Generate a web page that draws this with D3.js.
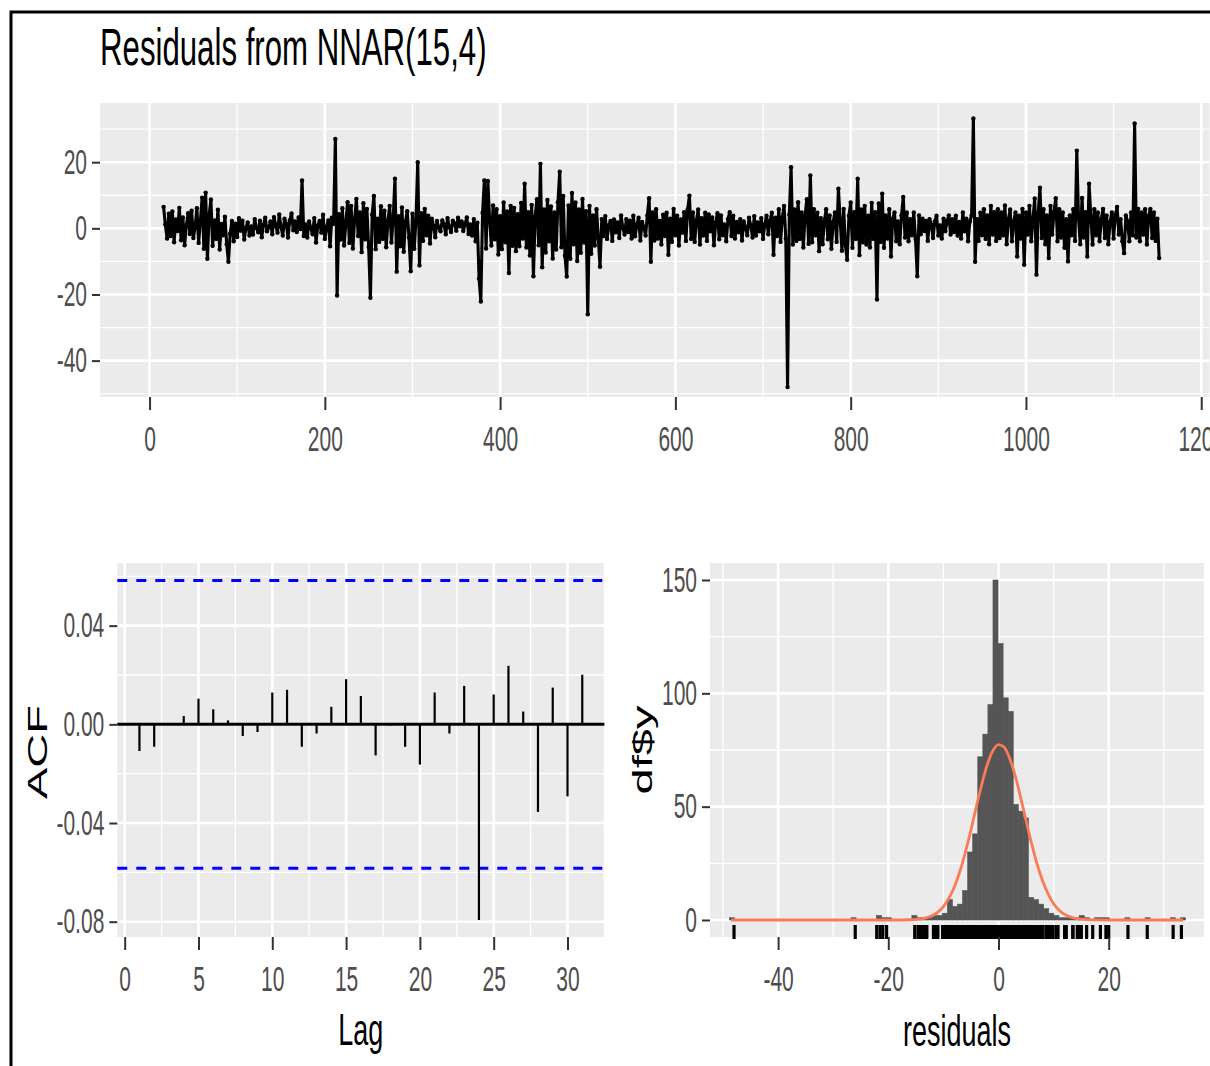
<!DOCTYPE html>
<html lang="en">
<head>
<meta charset="UTF-8">
<title>Residuals from NNAR(15,4)</title>
<script src="https://d3js.org/d3.v7.min.js"></script>
<style>
  body { margin: 0; background: #fff; }
  svg { display: block; font-family: "Liberation Sans", Arial, sans-serif; }
  .tick text { fill: #4d4d4d; font-size: 35px; font-family: "Liberation Sans", Arial, sans-serif; }
  .tick line { stroke: #333; stroke-width: 2; }
  .panel { fill: #ebebeb; }
  .grid-major { stroke: #fff; stroke-width: 2.6; }
  .grid-minor { stroke: #fff; stroke-width: 1.3; }
  .label { fill: #000; font-size: 44px; }
</style>
</head>
<body>
<svg width="1210" height="1066"></svg>
<script>
// residuals at every second time step starting at t = 16
const residStart = 16;
const residStep = 2;
const resid = [
  6.5, 1.2, -3.1, 4.4, -2.3, 5.1, -4.2, 2.7, -0.8, 6.2, -3.6, 3.3, -5.1, 0.9, 4.6, -1.7, 5.3, -2.9, 0.4, 6.1, -4.4, 2.2, 9.3, -6.2, 10.8,
  -9.2, 4.1, 8.7, -5.3, 2.4, -3.2, 5.6, -6.4, 1.3, -2.1, 3.5, -4.8, -10.1, -1.6, 2.2, -3.9, 1.4, -2.6, 3.1, -0.7, 2.3, -3.4, 0.2, 1.8, -2.2,
  0.6, -1.9, 2.8, 0.1, -1.2, 2.3, -2.7, 1.1, 3.2, -0.9, 0.3, 2.1, -1.8, 3.4, 0.8, -1.3, 4.2, 0.5, -2.2, 2.9, 1.3, -2.8, 2.4, 4.5, -0.6,
  2.1, -1.1, 3.3, -0.2, 14.5, -2.3, 1.2, -2.8, 2.1, 0.2, -1.8, 3.1, -4.3, 0.9, 2.2, -1.3, 4.1, -3.2, 0.3, 2.4, -5.4, 3.2, 1.4, 27, -20.3,
  4.3, -3.4, 6.1, -5.2, 1.8, 7.9, -4.4, 6.8, -6.1, 2.6, 8.9, -2.3, 4.8, -7.2, 7.6, -3.3, 5.9, -5.6, -21, 4.2, 9.8, -6.3, 2.9, -4.1, 6.7,
  -3.2, 5.3, -5.7, 2.2, 6.8, -4.3, 3.1, 15, -13.1, 3.7, -5.4, 6.3, -7.1, 1.9, 5.2, -2.8, -13, 4.4, -6.2, 2.7, 20, -11.2, 4.6, -3.8, 5.9,
  -2.1, 3.8, -4.6, 2.9, 0.8, -2.7, 2.2, 0.3, -0.9, 2.4, 1.2, -1.8, 3.1, 0.4, -1.1, 2.3, 1.5, -0.7, 3.2, 0.6, 2.1, -0.8, 1.3, 3.3, -1.7,
  1.2, -2.2, 2.8, -3.9, 1.7, -15.2, -22.1, 4.7, 14.5, -6.1, 14.3, 2.6, -5.2, 6.9, -3.3, 5.8, -7.9, 3.7, -6.3, 7.8, -4.2, 5.1, -13.5, 6.8, -5.3,
  6.2, -6.9, 4.3, -5.4, 7.7, -3.1, 13.5, -5.8, 4.9, -8.2, 7.1, -14.5, 3.6, 8.8, -5.1, 19.5, -11.8, 5.7, -7.3, 8.6, -3.9, 6.6, -9.1, 4.8, -6.4,
  7.9, 17.1, -5.7, 9.8, -8.3, -14.6, 6.9, -9.2, 10.7, -4.8, 7.8, -9.9, 5.7, -7.4, 8.9, -4.3, 5.2, -26, 6.8, -7.7, 3.9, -5.2, 5.8, -2.9, -11.6,
  2.8, -2.3, 3.7, -3.2, 0.9, 2.2, -3.8, 2.7, -1.2, 1.8, -2.9, 3.9, 0.2, -1.9, 2.8, -1.1, 2.3, -3.1, 3.8, -2.4, 1.1, 3.2, -3.7, 1.9, 0.4,
  -2.2, 3.9, 9.1, -10.1, 4.8, -3.7, 5.8, -3.1, 2.2, -4.9, 4.1, -2.3, 4.7, -8, 2.9, -4.1, 5.9, -2.1, 3.8, -5.2, 2.7, -1.3, 4.9, -3.8, 5.7,
  9.9, -3.2, 4.8, -4.1, 2.3, 5.7, -4.9, 3.1, -2.2, 4.7, -3.8, 4.2, -0.9, 3.3, -5.1, 1.8, 4.6, -3.3, 3.9, -2.1, 1.2, -3.9, 2.8, 4.9, -2.3,
  3.8, -3.1, 1.9, -1.2, 2.8, -3.7, 2.1, 0.3, -2.1, 3.2, 0.9, -2.8, 3.7, -2.2, 1.8, -0.9, 3.1, -3.2, 1.2, 3.8, -1.8, 2.3, 4.7, -8, 3.2,
  -2.3, 5.8, -4.1, 3.2, 6.8, -3.1, -48, 4.2, 18.5, -4.9, 5.7, -3.8, 7.9, -3.2, 4.8, -5.8, 3.9, 8.8, -4.7, 16, -4.2, 5.8, -2.1, 4.7, -6.9,
  3.1, -4.8, 2.2, 5.8, -3.3, 3.9, -6.2, 1.9, 4.8, -4.1, 12, 2.8, -6.8, 5.9, -5.2, -9.5, 3.8, 7.8, -5.9, 4.9, -3.2, 15, -8.1, 5.7, -4.2,
  6.8, -4.9, 3.8, -5.8, 7.7, -3.2, 4.9, -21.5, 7.5, -4.1, 10.5, -5.9, 3.9, -3.1, 5.8, -8.5, 2.9, 4.8, -3.9, 2.1, -4.8, 3.9, 9.5, -2.8, 4.8,
  -3.9, 2.8, -2.1, 4.8, -3.2, -14.5, 3.9, -1.8, 2.9, -0.8, 2.2, -3.8, 2.8, 1.1, -2.9, 2.1, 3.8, -2.2, 0.9, -3.1, 2.9, -0.9, 2.2, 3.9, -1.9,
  2.8, -1.1, 3.8, -2.2, 1.9, -3.1, 4.8, -0.9, 2.9, -3.9, 2.1, 3.9, 33.2, -10.1, 2.8, -3.8, 4.7, -2.1, 5.8, -3.2, 3.9, -4.8, 6.8, -1.9, 4.9,
  -3.8, 5.8, -2.9, 4.8, -2.1, 6.9, -4.8, 2.8, 5.7, -3.9, 1.9, 4.8, -8.5, 3.8, -3.1, 5.9, -11, 4.8, -1.9, 6.8, -3.9, 2.9, 9, -14, 4.8,
  12.3, -2.9, 5.8, -4.8, 3.9, -9, 6.8, -1.9, 4.9, 9.1, -3.9, 5.8, -2.8, 4.8, -5.9, 2.8, -10, 3.9, -2.1, 5.8, -3.8, 23.5, 2.9, -4.8, 9.2,
  -2.8, 4.9, -8.5, 13.5, 3.8, -4.9, 5.8, -2.1, 4.8, -3.9, 2.8, 5.9, -2.9, 3.9, -4.8, 1.9, 4.8, -3.1, 3.9, 6.5, -1.9, 2.8, -3.9, -7.5, 3.9,
  2.1, -3.9, 4.8, -2.1, 31.7, -2.8, 5.9, -3.9, 4.8, -1.9, 5.8, -4.9, 3.8, 5.9, -2.9, 4.8, -3.8, 2.9, -9
];

// autocorrelations
const acfLag = [1, 2, 3, 4, 5, 6, 7, 8, 9, 10, 11, 12, 13, 14, 15, 16, 17, 18, 19, 20,
                21, 22, 23, 24, 25, 26, 27, 28, 29, 30, 31];
const acfValue = [-0.0108, -0.0091, 0.0005, 0.0034, 0.0104, 0.0061, 0.0016, -0.0047, -0.0031, 0.0129,
                  0.0140, -0.0091, -0.0037, 0.0071, 0.0183, 0.0115, -0.0126, -0.0005, -0.0091, -0.0163,
                  0.0129, -0.0037, 0.0156, -0.0793, 0.0121, 0.0237, 0.0052, -0.0355, 0.0149, -0.0292, 0.0201];
const acfLimit = 0.0583;

// histogram: bins of equal width starting at histStart
const histStart = -48.84;
const histWidth = 0.92;
const histCounts = [
  1, 0, 0, 0, 0, 0, 0, 0, 0, 0, 0, 0, 0, 0, 0, 0, 0, 0, 0, 0, 0, 0, 0, 0,
  1, 0, 0, 0, 0, 2, 1, 1, 0, 0, 0, 0,
  2, 1, 1, 1, 2, 2, 3, 9, 6, 7, 13, 30, 38, 72, 82, 95, 150,
  122, 98, 92, 51, 48, 45, 10, 9, 7, 5, 3, 2, 1, 1, 1, 1, 2, 1, 0,
  1, 1, 1, 0, 0, 0, 1, 0, 0, 0, 1, 0, 0, 0, 0, 1, 0, 1
];

// fitted normal curve
const normX = [-48.5, -20, -16, -15, -14, -13, -12, -11, -10, -9, -8, -7, -6, -5, -4, -3, -2, -1,
               0, 1, 2, 3, 4, 5, 6, 7, 8, 9, 10, 11, 12, 13, 14, 15, 16, 20, 33.5];
const normY = [0, 0, 0.12, 0.26, 0.53, 1.05, 1.96, 3.5, 5.94, 9.6, 14.7, 21.5, 30.0, 39.7, 50.2, 60.2, 68.8, 74.8,
               77.4, 76.3, 71.5, 63.9, 54.3, 43.9, 33.8, 24.7, 17.3, 11.5, 7.2, 4.35, 2.5, 1.36, 0.7, 0.35, 0.16, 0, 0];

// tick values
const topXTicks = [0, 200, 400, 600, 800, 1000, 1200];
const topYTicks = [-40, -20, 0, 20];
const acfXTicks = [0, 5, 10, 15, 20, 25, 30];
const acfYTicks = [-0.08, -0.04, 0, 0.04];
const histXTicks = [-40, -20, 0, 20];
const histYTicks = [0, 50, 100, 150];

const svg = d3.select("svg");
const S = 0.6;   // the lettering in the picture is squeezed horizontally

const xTop = d3.scaleLinear().domain([-56.55, 1209.55]).range([100, 1209.6]);
const yTop = d3.scaleLinear().domain([-51.0, 37.9]).range([397, 103]);
const xAcf = d3.scaleLinear().domain([-0.5, 32.5]).range([117.3, 604.4]);
const yAcf = d3.scaleLinear().domain([-0.0862, 0.0654]).range([937, 563]);
const xHist = d3.scaleLinear().domain([-52.36, 37.3]).range([710, 1204]);
const yHist = d3.scaleLinear().domain([-7.5, 157.5]).range([937, 563]);

function mids(ticks, step) {
  return ticks.map(d => d - step / 2).concat([ticks[ticks.length - 1] + step / 2]);
}

function drawPanel(x, y, xMajor, xMinor, yMajor, yMinor) {
  const [xa, xb] = x.range(), [yb, ya] = y.range();
  const inX = d => d >= x.domain()[0] && d <= x.domain()[1];
  const inY = d => d >= y.domain()[0] && d <= y.domain()[1];
  const g = svg.append("g");
  g.append("rect").attr("class", "panel")
    .attr("x", xa).attr("y", ya).attr("width", xb - xa).attr("height", yb - ya);
  g.selectAll(null).data(yMinor.filter(inY)).join("line").attr("class", "grid-minor")
    .attr("x1", xa).attr("x2", xb).attr("y1", d => y(d)).attr("y2", d => y(d));
  g.selectAll(null).data(xMinor.filter(inX)).join("line").attr("class", "grid-minor")
    .attr("x1", d => x(d)).attr("x2", d => x(d)).attr("y1", ya).attr("y2", yb);
  g.selectAll(null).data(yMajor.filter(inY)).join("line").attr("class", "grid-major")
    .attr("x1", xa).attr("x2", xb).attr("y1", d => y(d)).attr("y2", d => y(d));
  g.selectAll(null).data(xMajor.filter(inX)).join("line").attr("class", "grid-major")
    .attr("x1", d => x(d)).attr("x2", d => x(d)).attr("y1", ya).attr("y2", yb);
  return g;
}

function squeeze(g) {
  g.selectAll("text").each(function() {
    const t = d3.select(this);
    t.attr("x", (+t.attr("x") || 0) / S).attr("transform", `scale(${S},1)`);
  });
}

function axisBottom(x, y, ticks, fmt) {
  svg.append("g").attr("transform", `translate(0,${y.range()[0]})`)
    .call(d3.axisBottom(x).tickValues(ticks).tickFormat(fmt).tickSize(13).tickPadding(16))
    .call(g => g.select(".domain").remove())
    .call(squeeze);
}

function axisLeft(x, y, ticks, fmt) {
  svg.append("g").attr("transform", `translate(${x.range()[0]},0)`)
    .call(d3.axisLeft(y).tickValues(ticks).tickFormat(fmt).tickSize(8).tickPadding(5))
    .call(g => g.select(".domain").remove())
    .call(squeeze);
}

function label(text, x, y, size, rotate, anchor) {
  svg.append("text").attr("class", "label")
    .attr("transform", `translate(${x},${y}) scale(${S},1)` + (rotate ? " rotate(-90)" : ""))
    .attr("text-anchor", anchor)
    .style("font-size", size + "px")
    .text(text);
}

const fmtInt = d => String(d);
const fmtAcf = d => d.toFixed(2);

// ---- top: residual series
drawPanel(xTop, yTop, topXTicks, mids(topXTicks, 200), topYTicks, mids(topYTicks, 20));
const series = resid.map((v, i) => [residStart + i * residStep, v]);
svg.append("path").datum(series)
  .attr("fill", "none").attr("stroke", "#000").attr("stroke-width", 3.1)
  .attr("stroke-linejoin", "round")
  .attr("d", d3.line().x(d => xTop(d[0])).y(d => yTop(d[1])));
svg.append("g").selectAll("circle").data(series).join("circle")
  .attr("cx", d => xTop(d[0])).attr("cy", d => yTop(d[1])).attr("r", 2.2).attr("fill", "#000");
axisBottom(xTop, yTop, topXTicks, fmtInt);
axisLeft(xTop, yTop, topYTicks, fmtInt);

// ---- bottom left: ACF
drawPanel(xAcf, yAcf, acfXTicks, mids(acfXTicks, 5), acfYTicks, mids(acfYTicks, 0.04));
[acfLimit, -acfLimit].forEach(v => {
  svg.append("line")
    .attr("x1", xAcf.range()[0]).attr("x2", xAcf.range()[1])
    .attr("y1", yAcf(v)).attr("y2", yAcf(v))
    .attr("stroke", "#0000ff").attr("stroke-width", 3).attr("stroke-dasharray", "10,9");
});
svg.append("line")
  .attr("x1", xAcf.range()[0]).attr("x2", xAcf.range()[1])
  .attr("y1", yAcf(0)).attr("y2", yAcf(0))
  .attr("stroke", "#000").attr("stroke-width", 3);
svg.append("g").selectAll("line").data(acfLag).join("line")
  .attr("x1", d => xAcf(d)).attr("x2", d => xAcf(d))
  .attr("y1", yAcf(0)).attr("y2", (d, i) => yAcf(acfValue[i]))
  .attr("stroke", "#000").attr("stroke-width", 2.2);
axisBottom(xAcf, yAcf, acfXTicks, fmtInt);
axisLeft(xAcf, yAcf, acfYTicks, fmtAcf);

// ---- bottom right: histogram with normal curve and rug
drawPanel(xHist, yHist, histXTicks, mids(histXTicks, 20), histYTicks, mids(histYTicks, 50));
const bins = histCounts.map((c, i) => ({x0: histStart + i * histWidth, x1: histStart + (i + 1) * histWidth, n: c}))
  .filter(b => b.n > 0);
svg.append("g").selectAll("rect").data(bins).join("rect")
  .attr("x", d => xHist(d.x0)).attr("width", d => xHist(d.x1) - xHist(d.x0))
  .attr("y", d => yHist(d.n)).attr("height", d => yHist(0) - yHist(d.n))
  .attr("fill", "#555").attr("stroke", "#555").attr("stroke-width", 0.6);
svg.append("path").datum(normX.map((x, i) => [x, normY[i]]))
  .attr("fill", "none").attr("stroke", "#fa7b55").attr("stroke-width", 2.8)
  .attr("d", d3.line().curve(d3.curveMonotoneX).x(d => xHist(d[0])).y(d => yHist(d[1])));
svg.append("g").selectAll("line").data(resid).join("line")
  .attr("x1", d => xHist(d)).attr("x2", d => xHist(d))
  .attr("y1", yHist.range()[0] - 12).attr("y2", yHist.range()[0] + 2)
  .attr("stroke", "#000").attr("stroke-width", 3.2);
axisBottom(xHist, yHist, histXTicks, fmtInt);
axisLeft(xHist, yHist, histYTicks, fmtInt);

// ---- titles
label("Residuals from NNAR(15,4)", 100, 65, 52, false, "start");
label("Lag", d3.mean(xAcf.range()), 1045, 45, false, "middle");
label("residuals", d3.mean(xHist.range()), 1046, 45, false, "middle");
label("ACF", 47, d3.mean(yAcf.range()) + 2, 47, true, "middle");
label("df$y", 652, d3.mean(yHist.range()), 47, true, "middle");

// frame around the figure (only the top and left edges fall inside the picture)
svg.append("rect").attr("x", 11).attr("y", 12).attr("width", 1400).attr("height", 1200)
  .attr("fill", "none").attr("stroke", "#000").attr("stroke-width", 3);
</script>
</body>
</html>
